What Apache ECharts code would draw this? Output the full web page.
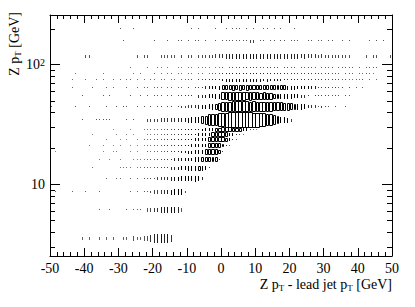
<!DOCTYPE html>
<html><head><meta charset="utf-8">
<script src="https://cdn.jsdelivr.net/npm/echarts@6/dist/echarts.min.js"></script>
<style>html,body{margin:0;padding:0;background:#fff}#c{width:415px;height:307px}</style>
</head><body><div id="c"></div>
<script>
// x bins: 100 bins of width 1 from -50 to 50
const xMin = -50, xMax = 50, xBinWidth = 1;
// Z pT bin edges (GeV)
const yBinEdges = [2.5,5,7.5,10,12.5,15,17.5,20,22.5,25,27.5,30,40,50,60,70,80,90,100,140,180,220];
const yMinorTicks = [3,4,5,6,7,8,9,20,30,40,50,60,70,80,90,200];
const zMax = 200;

// bin contents, one array per Z pT bin, 100 x-bins each (x from -50 to 50)
const zpt_2p5_5 = [
 0,0,0,0,0,0,0,0,0,1, 0,1,0,0,1,0,1,0,1,0, 0,1,1,0,2,1,1,2,3,6, 8,10,12,9,11,6,0,0,0,0,
 0,0,0,0,0,0,0,0,0,0, 0,0,0,0,0,0,0,0,0,0, 0,0,0,0,0,0,0,0,0,0, 0,0,0,0,0,0,0,0,0,0,
 0,0,0,0,0,0,0,0,0,0, 0,0,0,0,0,0,0,0,0,0];
const zpt_5_7p5 = [
 0,0,0,0,0,0,0,0,0,0, 0,0,0,0,1,0,0,1,0,0, 0,0,1,0,1,1,1,0,2,3, 5,7,9,10,12,14,12,8,2,0,
 0,0,0,0,0,0,0,0,0,0, 0,0,0,0,0,0,0,0,0,0, 0,0,0,0,0,0,0,0,0,0, 0,0,0,0,0,0,0,0,0,0,
 0,0,0,0,0,0,0,0,0,0, 0,0,0,0,0,0,0,0,0,0];
const zpt_7p5_10 = [
 0,1,0,0,0,0,1,0,0,0, 1,0,0,0,1,0,0,0,0,0, 0,0,0,1,0,1,0,2,2,3, 4,4,5,7,10,14,18,20,16,3,
 0,0,0,0,0,0,0,0,0,0, 0,0,0,0,0,0,0,0,0,0, 0,0,0,0,0,0,0,0,0,0, 0,0,0,0,0,0,0,0,0,0,
 0,0,0,0,0,0,0,0,0,0, 0,0,0,0,0,0,0,0,0,0];
const zpt_10_12p5 = [
 0,0,0,0,0,0,0,0,0,0, 0,0,0,0,0,0,1,0,0,1, 1,0,0,1,0,1,0,2,2,3, 3,4,5,5,7,9,12,16,20,24,
 26,28,30,24,8,0,0,0,0,0, 0,0,0,0,0,0,0,0,0,0, 0,0,0,0,0,0,0,0,0,0, 0,0,0,0,0,0,0,0,0,0,
 0,0,0,0,0,0,0,0,0,0, 0,0,0,0,0,0,0,0,0,0];
const zpt_12p5_15 = [
 0,0,0,0,0,0,0,0,0,0, 0,0,1,0,0,0,0,0,0,0, 1,1,1,1,0,1,1,2,2,1, 2,3,3,4,5,6,8,12,18,25,
 30,35,38,40,35,25,4,0,0,0, 0,0,0,0,0,0,0,0,0,0, 0,0,0,0,0,0,0,0,0,0, 0,0,0,0,0,0,0,0,0,0,
 0,0,0,0,0,0,0,0,0,0, 0,0,0,0,0,0,0,0,0,0];
const zpt_15_17p5 = [
 0,0,0,0,0,0,0,0,0,0, 0,0,0,0,1,0,0,1,0,0, 1,0,0,0,1,1,1,1,2,2, 2,3,3,4,5,6,8,10,12,15,
 20,25,30,35,45,60,65,60,40,4, 0,0,0,0,0,0,0,0,0,0, 0,0,0,0,0,0,0,0,0,0, 0,0,0,0,0,0,0,0,0,0,
 0,0,0,0,0,0,0,0,0,0, 0,0,0,0,0,0,0,0,0,0];
const zpt_17p5_20 = [
 0,1,0,0,0,0,0,0,0,0, 0,0,0,0,0,1,0,0,1,1, 0,0,0,1,0,1,0,0,2,1, 2,2,3,3,4,5,6,8,10,12,
 15,18,22,28,35,80,110,100,75,60, 5,0,0,0,0,0,0,0,0,0, 0,0,0,0,0,0,0,0,0,0, 0,0,0,0,0,0,0,0,0,0,
 0,0,0,0,0,0,0,0,0,0, 0,0,0,0,0,0,0,0,0,0];
const zpt_20_22p5 = [
 0,0,0,0,0,0,0,0,0,0, 0,1,0,0,0,1,0,0,1,0, 1,0,0,1,0,1,0,1,2,2, 3,2,3,4,5,5,6,7,9,10,
 12,14,18,24,30,35,100,120,110,70, 40,10,3,0,0,0,0,0,0,0, 0,0,0,0,0,0,0,0,0,0, 0,0,0,0,0,0,0,0,0,0,
 0,0,0,0,0,0,0,0,0,0, 0,0,0,0,0,0,0,0,0,0];
const zpt_22p5_25 = [
 0,0,0,0,0,0,0,0,0,0, 0,0,0,0,0,0,1,0,0,0, 1,0,1,0,0,1,0,2,2,2, 3,4,3,5,5,6,7,8,9,10,
 12,14,18,24,30,35,100,120,125,120, 110,50,25,8,3,0,0,0,0,0, 0,0,0,0,0,0,0,0,0,0, 0,0,0,0,0,0,0,0,0,0,
 0,0,0,0,0,0,0,0,0,0, 0,0,0,0,0,0,0,0,0,0];
const zpt_25_27p5 = [
 0,0,0,0,0,0,0,0,0,0, 0,0,1,0,0,0,0,0,0,1, 0,0,1,0,1,0,0,0,2,2, 2,2,3,4,5,4,6,7,8,9,
 10,12,14,20,28,32,35,110,125,130, 125,115,35,30,8,5,2,0,0,0, 0,0,0,0,0,0,0,0,0,0, 0,0,0,0,0,0,0,0,0,0,
 0,0,0,0,0,0,0,0,0,0, 0,0,0,0,0,0,0,0,0,0];
const zpt_27p5_30 = [
 0,0,0,0,0,0,0,0,0,0, 0,0,0,0,0,0,0,0,1,0, 0,0,0,1,0,0,0,2,2,2, 3,3,4,3,5,5,6,7,8,9,
 10,11,12,14,25,30,35,38,110,125, 130,135,130,125,120,110,35,30,6,4, 2,0,0,0,0,0,0,0,0,0, 0,0,0,0,0,0,0,0,0,0,
 0,0,0,0,0,0,0,0,0,0, 0,0,0,0,0,0,0,0,0,0];
const zpt_30_40 = [
 0,0,0,0,0,0,0,0,0,2, 0,0,0,2,2,2,2,2,0,0, 0,0,2,0,2,0,0,0,3,3, 4,4,5,5,6,6,8,8,10,12,
 15,18,22,28,40,60,100,110,120,150, 170,180,190,195,200,198,195,190,185,180, 175,170,165,110,100,80,45,25,20,15, 4,0,0,0,0,0,0,0,0,0,
 0,0,0,0,0,0,0,0,0,0, 0,0,0,0,0,0,0,0,0,0];
const zpt_40_50 = [
 2,0,0,0,0,0,0,2,0,0, 0,2,0,0,0,0,2,0,0,2, 0,2,2,0,0,2,0,2,0,2, 0,2,2,0,3,3,0,3,4,4,
 5,6,8,10,14,20,25,30,45,70, 110,125,135,140,145,150,145,140,135,140, 130,120,110,105,115,100,95,90,80,60, 50,40,35,30,22,8,6,5,3,4,
 3,2,0,2,0,0,2,0,0,0, 0,0,0,0,0,0,0,0,0,0];
const zpt_50_60 = [
 0,0,0,0,0,0,0,0,0,2, 0,0,0,0,0,2,0,2,0,0, 0,0,0,2,0,0,2,0,2,0, 2,2,2,0,2,3,0,3,3,4,
 4,5,0,6,8,12,18,22,26,30, 110,120,125,130,135,130,125,120,125,115, 100,95,100,90,85,45,40,35,38,30, 30,22,24,8,6,5,0,5,4,3,
 3,3,2,3,2,0,2,2,0,0, 0,0,0,0,0,0,0,0,0,0];
const zpt_60_70 = [
 0,0,0,0,0,0,2,0,0,0, 0,0,2,0,0,0,2,0,2,0, 0,0,2,0,0,2,0,2,2,0, 2,2,2,0,2,2,0,2,2,0,
 3,0,3,4,5,8,12,18,22,28, 60,65,70,75,72,78,70,75,70,72, 68,70,65,60,62,58,55,50,50,30, 28,25,22,20,18,15,12,10,6,5,
 4,5,3,4,2,3,0,3,0,2, 0,2,0,0,0,0,0,0,0,0];
const zpt_70_80 = [
 0,0,0,0,0,0,2,0,0,0, 2,0,0,2,0,2,0,0,2,0, 2,0,2,2,0,2,0,2,0,2, 2,0,2,2,0,2,2,0,2,2,
 3,3,0,4,4,5,6,7,8,9, 12,13,14,15,14,16,14,15,13,14, 13,14,12,13,12,12,11,10,9,8, 7,6,7,5,6,5,5,4,4,4,
 4,3,4,3,3,2,3,2,2,2, 2,3,0,2,0,2,0,0,0,0];
const zpt_80_90 = [
 0,0,0,0,0,0,0,2,0,0, 0,0,0,0,0,2,0,0,0,0, 0,0,0,0,2,0,2,0,0,0, 2,0,2,0,2,2,0,2,2,0,
 2,2,0,2,2,0,2,3,3,4, 7,8,8,9,8,9,8,9,8,8, 8,7,8,7,8,7,7,7,6,5, 6,5,5,5,5,5,4,5,5,4,
 4,5,3,4,3,0,3,3,3,0, 3,2,3,2,2,0,0,0,0,0];
const zpt_90_100 = [
 0,0,0,0,0,0,0,0,0,0, 0,0,0,0,0,0,0,0,0,0, 0,0,0,2,0,0,0,0,2,0, 0,2,2,0,2,0,0,2,2,0,
 2,2,0,2,2,2,2,0,2,2, 4,0,4,5,4,5,4,6,4,5, 5,4,4,5,4,4,4,0,4,4, 3,4,0,4,3,4,4,3,0,4,
 3,3,4,0,3,3,3,3,3,0, 3,0,3,3,3,3,0,0,0,0];
const zpt_100_140 = [
 0,0,0,0,0,0,0,0,0,0, 2,2,0,0,0,0,0,0,0,0, 0,0,0,0,0,2,0,2,2,0, 0,0,2,2,2,2,2,0,3,0,
 3,2,0,3,3,3,4,4,5,6, 7,8,10,8,11,9,12,10,11,12, 10,11,9,12,10,9,11,8,10,9, 9,8,10,7,8,6,5,6,4,5,
 4,4,3,3,4,3,2,2,0,0, 0,0,2,0,2,2,0,0,0,2];
const zpt_140_180 = [
 0,0,0,0,0,0,0,0,0,0, 0,0,0,0,0,0,0,0,0,0, 0,2,0,0,0,0,0,0,0,0, 2,0,0,0,2,0,0,2,2,0,
 2,0,2,2,0,2,0,0,2,0, 2,2,2,2,2,2,2,2,4,4, 0,2,2,0,2,2,0,2,2,0, 2,2,2,0,0,2,2,0,2,2,
 0,2,2,0,0,2,0,2,0,0, 0,0,0,2,0,2,0,2,0,0];
const zpt_180_220 = [
 0,0,0,0,0,0,0,0,0,0, 0,0,0,0,0,0,0,0,0,0, 2,0,0,0,2,0,0,0,0,0, 0,0,0,0,0,0,0,0,0,0,
 0,2,0,2,0,0,0,0,2,0, 0,2,0,2,2,2,0,2,0,2, 0,0,2,2,0,2,0,2,0,0, 0,2,0,0,0,0,0,0,0,0,
 0,0,0,0,0,0,0,0,0,0, 0,0,0,0,0,0,0,0,0,0];

const rows = [zpt_2p5_5, zpt_5_7p5, zpt_7p5_10, zpt_10_12p5, zpt_12p5_15, zpt_15_17p5,
  zpt_17p5_20, zpt_20_22p5, zpt_22p5_25, zpt_25_27p5, zpt_27p5_30, zpt_30_40, zpt_40_50,
  zpt_50_60, zpt_60_70, zpt_70_80, zpt_80_90, zpt_90_100, zpt_100_140, zpt_140_180, zpt_180_220];

const boxData = [];
rows.forEach((row, r) => {
  const yc = Math.sqrt(yBinEdges[r] * yBinEdges[r + 1]);
  row.forEach((c, i) => {
    if (c > 0) boxData.push([xMin + (i + 0.5) * xBinWidth, yc, c, r]);
  });
});

const FONT = "'Liberation Serif', 'Times New Roman', serif";
const chart = echarts.init(document.getElementById('c'), null, {renderer: 'svg'});

function xAxisCfg(pos, showLabel) {
  return {
    type: 'value', position: pos, min: xMin, max: xMax, interval: 10,
    axisLine: {show: true, onZero: false, lineStyle: {color: '#000', width: 1}},
    axisTick: {show: true, inside: true, length: 8, lineStyle: {color: '#000', width: 1}},
    minorTick: {show: true, splitNumber: 5, length: 4, lineStyle: {color: '#000', width: 1}},
    splitLine: {show: false}, minorSplitLine: {show: false},
    axisLabel: {show: showLabel, color: '#000', fontFamily: FONT, fontSize: 14, margin: 5}
  };
}
function yAxisCfg(pos, showLabel) {
  return {
    type: 'log', logBase: 10, position: pos, min: 2.5, max: 260,
    axisLine: {show: true, onZero: false, lineStyle: {color: '#000', width: 1}},
    axisTick: {show: true, inside: true, length: 10, lineStyle: {color: '#000', width: 1}},
    splitLine: {show: false},
    axisLabel: {
      show: showLabel, color: '#000', fontFamily: FONT, fontSize: 14, margin: 5,
      showMinLabel: false, showMaxLabel: false,
      formatter: function (v) {
        const e = Math.round(Math.log10(v));
        if (Math.abs(Math.log10(v) - e) > 1e-6) return '';
        if (e === 1) return '10';
        return '10{sup|' + e + '}';
      },
      rich: {sup: {fontFamily: FONT, fontSize: 10, verticalAlign: 'top', lineHeight: 10, padding: [0, 0, 8, 0]}}
    }
  };
}

chart.setOption({
  animation: false,
  backgroundColor: '#fff',
  grid: {left: 50, right: 23, top: 15, bottom: 51, containLabel: false},
  xAxis: [xAxisCfg('bottom', true), xAxisCfg('top', false)],
  yAxis: [yAxisCfg('left', true), yAxisCfg('right', false)],
  series: [
    {
      type: 'custom', xAxisIndex: 0, yAxisIndex: 0, clip: true,
      data: boxData,
      renderItem: function (params, api) {
        const xc = api.value(0), c = api.value(2), r = api.value(3);
        const pA = api.coord([xc - xBinWidth / 2, yBinEdges[r]]);
        const pB = api.coord([xc + xBinWidth / 2, yBinEdges[r + 1]]);
        const ratio = Math.sqrt(c / zMax);
        const w = Math.abs(pB[0] - pA[0]) * ratio;
        const h = Math.abs(pA[1] - pB[1]) * ratio;
        const cx = (pA[0] + pB[0]) / 2, cy = (pA[1] + pB[1]) / 2;
        let x0 = Math.round(cx - w / 2), x1 = Math.round(cx + w / 2);
        let y0 = Math.round(cy - h / 2), y1 = Math.round(cy + h / 2);
        const thinX = w < 1.5, thinY = h < 1.5;
        if (thinX) { x0 = Math.floor(cx); x1 = x0; }
        if (thinY) { y0 = Math.floor(cy); y1 = y0; }
        if (thinX || thinY) {
          // too small to be hollow: a filled pixel column / row / dot
          const op = (w < 1 ? 0.5 + 0.5 * w : 1) * (h < 1 ? 0.6 + 0.4 * h : 1);
          return {type: 'rect',
                  shape: {x: x0, y: y0, width: x1 - x0 + 1, height: y1 - y0 + 1},
                  style: {fill: '#000', opacity: Math.min(1, op)}};
        }
        return {type: 'rect',
                shape: {x: x0 + 0.5, y: y0 + 0.5, width: x1 - x0, height: y1 - y0},
                style: {fill: 'none', stroke: '#000', lineWidth: 1}};
      }
    },
    {
      type: 'custom', xAxisIndex: 0, yAxisIndex: 0,
      data: yMinorTicks.map(v => [0, v]),
      renderItem: function (params, api) {
        const v = api.value(1);
        const pl = api.coord([xMin, v]);
        const pr = api.coord([xMax, v]);
        const y = Math.round(pl[1]) + 0.5;
        return {type: 'group', children: [
          {type: 'line', shape: {x1: pl[0], y1: y, x2: pl[0] + 5, y2: y}, style: {stroke: '#000', lineWidth: 1}},
          {type: 'line', shape: {x1: pr[0] - 5, y1: y, x2: pr[0], y2: y}, style: {stroke: '#000', lineWidth: 1}}
        ]};
      }
    }
  ],
  graphic: [
    {
      type: 'text', right: 23, top: 276,
      style: {
        text: 'Z p{sub|T} - lead jet p{sub|T} [GeV]',
        font: '14px "Liberation Serif", serif', fill: '#000', lineHeight: 16,
        rich: {sub: {fontFamily: FONT, fontSize: 9, verticalAlign: 'bottom', lineHeight: 12, padding: [6, 0, 0, 0]}}
      }
    },
    {
      type: 'text', x: 14, y: 12, rotation: Math.PI / 2,
      style: {
        text: 'Z p{sub|T} [GeV]', align: 'right', verticalAlign: 'middle',
        font: '14px "Liberation Serif", serif', fill: '#000', lineHeight: 16,
        rich: {sub: {fontFamily: FONT, fontSize: 9, verticalAlign: 'bottom', lineHeight: 12, padding: [6, 0, 0, 0]}}
      }
    }
  ]
});
</script></body></html>
